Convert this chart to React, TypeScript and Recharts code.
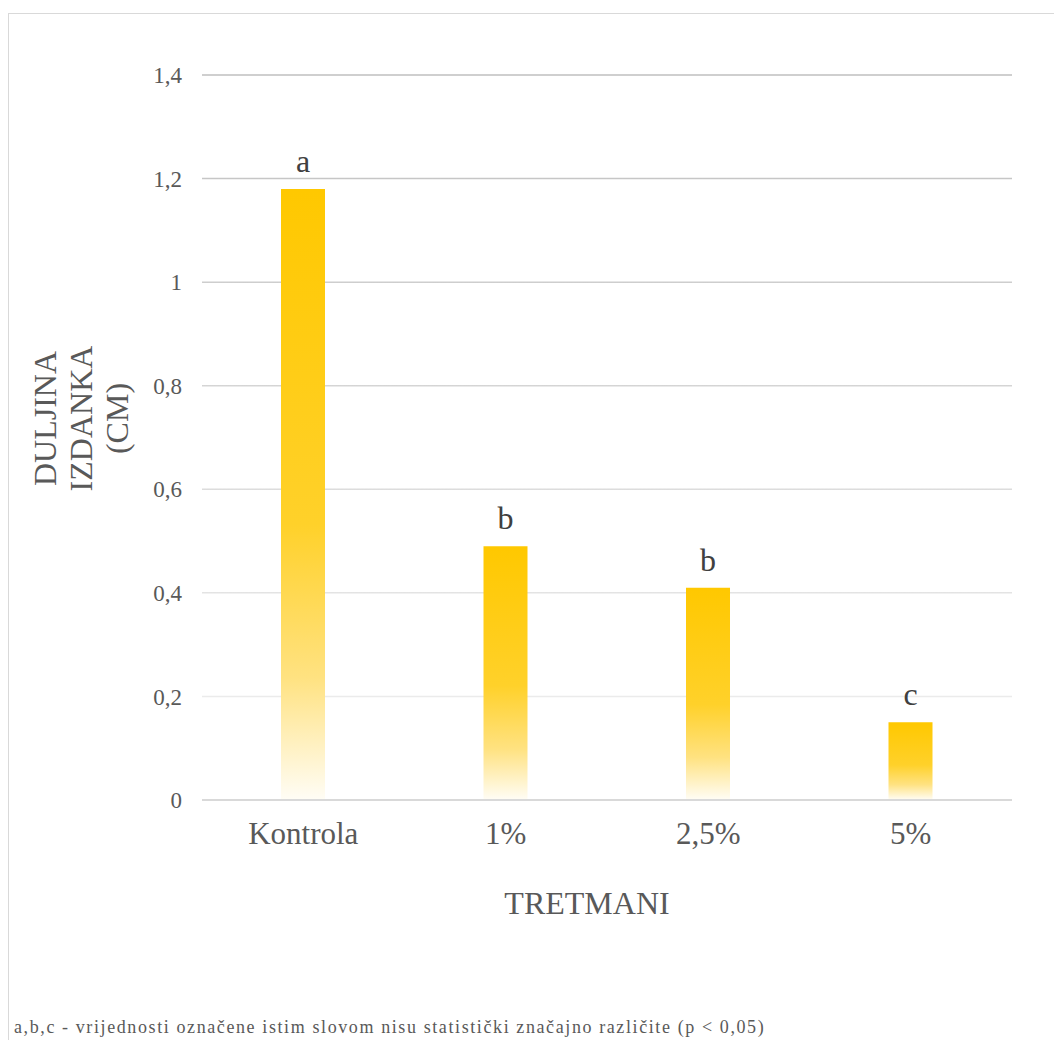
import { BarChart, Bar, XAxis, YAxis, CartesianGrid, LabelList } from 'recharts'

const treatments = ['Kontrola', '1%', '2,5%', '5%']
const shootLength = [1.18, 0.49, 0.41, 0.15]
const groupLetters = ['a', 'b', 'b', 'c']
const yTicks = [0, 0.2, 0.4, 0.6, 0.8, 1, 1.2, 1.4]
const yTitleLines = ['DULJINA', 'IZDANKA', '(CM)']
const xTitle = 'TRETMANI'
const footnote = 'a,b,c - vrijednosti označene istim slovom nisu statistički značajno različite (p < 0,05)'

const data = treatments.map((name, i) => ({
  name,
  value: shootLength[i],
  letter: groupLetters[i],
}))

const FONT = "'Liberation Serif', 'Times New Roman', serif"
const TEXT = '#595959'

function fmt(v: number): string {
  return String(v).replace('.', ',')
}

function YTitle({ viewBox }: { viewBox?: { x: number; y: number; width: number; height: number } }) {
  if (!viewBox) return null
  const cy = viewBox.y + viewBox.height / 2 - 19
  const x0 = viewBox.x + 47
  return (
    <g>
      {yTitleLines.map((line, i) => {
        const x = x0 + i * 36
        return (
          <text
            key={line}
            x={x}
            y={cy}
            transform={`rotate(-90, ${x}, ${cy})`}
            textAnchor="middle"
            fontFamily={FONT}
            fontSize={32}
            fill={TEXT}
          >
            {line}
          </text>
        )
      })}
    </g>
  )
}

function XTitle({ viewBox }: { viewBox?: { x: number; y: number; width: number; height: number } }) {
  if (!viewBox) return null
  return (
    <text
      x={viewBox.x + viewBox.width / 2 - 20}
      y={viewBox.y + 114}
      textAnchor="middle"
      fontFamily={FONT}
      fontSize={32}
      fill={TEXT}
    >
      {xTitle}
    </text>
  )
}

export default function App() {
  return (
    <div
      style={{
        position: 'fixed',
        left: 8,
        top: 13,
        width: 1046,
        height: 1027,
        boxSizing: 'border-box',
        borderLeft: '1px solid #d9d9d9',
        borderTop: '1px solid #d9d9d9',
        background: '#fff',
        overflow: 'hidden',
      }}
    >
      <BarChart
        width={1045}
        height={1000}
        data={data}
        margin={{ top: 61, right: 42, left: 0, bottom: 74 }}
        barCategoryGap={0}
      >
        <defs>
          <linearGradient id="barFill" x1="0" y1="0" x2="0" y2="1">
            <stop offset="0" stopColor="#ffc800" />
            <stop offset="0.55" stopColor="#ffd12a" />
            <stop offset="0.8" stopColor="#ffe281" />
            <stop offset="1" stopColor="#fffdf6" />
          </linearGradient>
          <linearGradient id="gridStroke" gradientUnits="userSpaceOnUse" x1="0" y1="61" x2="0" y2="786">
            <stop offset="0" stopColor="#bfbfbf" />
            <stop offset="1" stopColor="#f2f2f2" />
          </linearGradient>
        </defs>
        <CartesianGrid vertical={false} stroke="url(#gridStroke)" strokeWidth={1.5} />
        <XAxis
          dataKey="name"
          height={140}
          tickLine={false}
          tickSize={0}
          tickMargin={22}
          axisLine={{ stroke: '#d9d9d9', strokeWidth: 2 }}
          tick={{ fontFamily: FONT, fontSize: 31, fill: TEXT }}
          label={<XTitle />}
        />
        <YAxis
          width={193}
          domain={[0, 1.4]}
          ticks={yTicks}
          interval={0}
          tickFormatter={fmt}
          axisLine={false}
          tickLine={false}
          tickSize={0}
          tickMargin={20}
          tick={{ fontFamily: FONT, fontSize: 23, fill: TEXT }}
          label={<YTitle />}
        />
        <Bar dataKey="value" barSize={44} fill="url(#barFill)" isAnimationActive={false}>
          <LabelList
            dataKey="letter"
            position="top"
            offset={17}
            style={{ fontFamily: FONT, fontSize: 32, fill: '#404040' }}
          />
        </Bar>
      </BarChart>
      <div
        style={{
          position: 'absolute',
          left: 5,
          top: 1003,
          fontFamily: FONT,
          fontSize: 18,
          letterSpacing: 1.6,
          color: TEXT,
          whiteSpace: 'nowrap',
        }}
      >
        {footnote}
      </div>
    </div>
  )
}
